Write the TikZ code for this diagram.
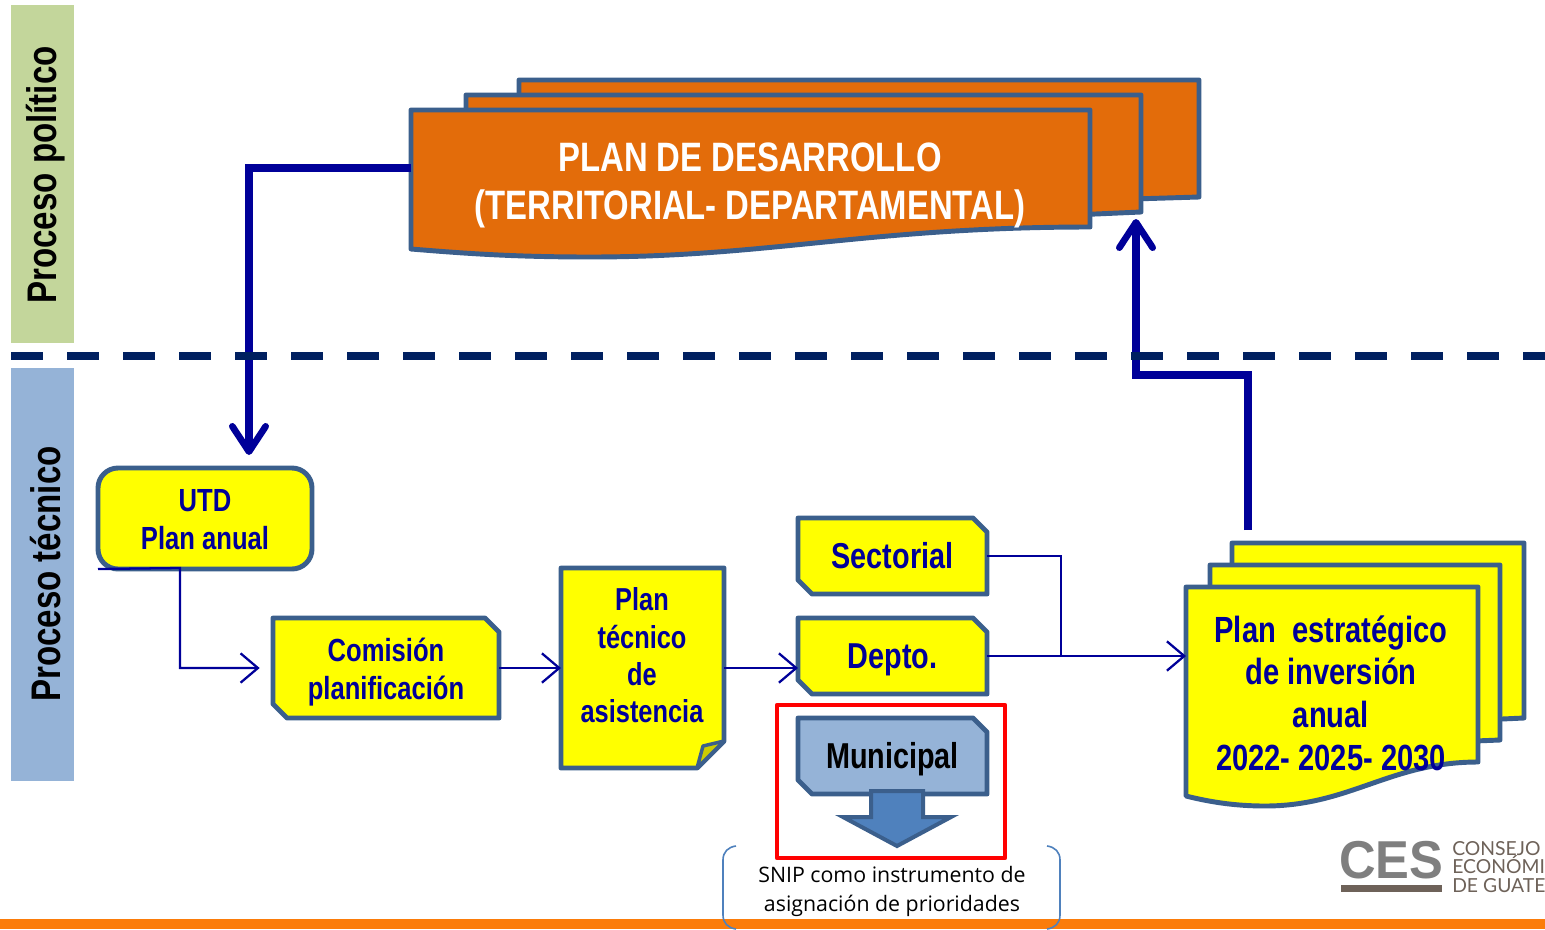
\documentclass[tikz,border=0pt]{standalone}
\usepackage{fontspec}
\setmainfont{Liberation Sans}
\newfontfamily\nar[FakeStretch=0.8]{Liberation Sans}
\newfontfamily\snipf{Open Sans}
\newfontfamily\logof{Lato}
\newfontfamily\cesf[FakeStretch=0.95]{Liberation Sans}
\usetikzlibrary{arrows.meta}
\definecolor{edgeblue}{HTML}{3B5F8C}
\definecolor{inkblue}{HTML}{000099}
\definecolor{docorange}{HTML}{E36C0A}
\definecolor{docyellow}{RGB}{255,255,0}
\definecolor{foldyellow}{HTML}{CCCC00}
\definecolor{framered}{RGB}{255,0,0}
\definecolor{bandgreen}{HTML}{C3D69B}
\definecolor{bandblue}{HTML}{95B3D7}
\definecolor{dashnavy}{HTML}{002060}
\definecolor{barorange}{HTML}{FB7C0A}
\definecolor{stemblue}{HTML}{4F81BD}
\definecolor{snipgray}{HTML}{7F7F7F}
\definecolor{logobrown}{HTML}{6E6259}
\tikzset{
  outline/.style={draw=edgeblue,line width=3.7pt,line join=round},
  yellowdoc/.style={outline,fill=docyellow},
  orangedoc/.style={outline,fill=docorange},
  labeltext/.style 2 args={font=\nar\bfseries\fontsize{#1}{#2}\selectfont,text=inkblue,align=center,inner sep=0pt},
  boxlabel/.style={font=\nar\bfseries\fontsize{27}{27}\selectfont,text=inkblue,inner sep=0pt,anchor=base,yshift=-9.5pt},
  thinarrow/.style={draw=inkblue,line width=1.7pt,-{Straight Barb[length=13pt,width=22pt,line width=1.7pt]}},
  thinline/.style={draw=inkblue,line width=1.5pt},
  thickarrow/.style={draw=inkblue,line width=5.4pt,line join=miter,-{Straight Barb[length=19pt,width=25pt,line width=5pt,round]}},
  frame/.style={inner sep=0pt,outer sep=0pt,anchor=north west},
}
\newcommand{\snipbox}[8]{% name x1 y1 x2 y2 fill labeloptions text
  \path[outline,fill=#6] (#2,#3) -- ({#4-14},#3) -- (#4,{#3+14}) -- (#4,#5) -- ({#2+14},#5) -- (#2,{#5-14}) -- cycle;
  \node[frame,minimum width={(#4-#2)*0.75pt},minimum height={(#5-#3)*0.75pt}] (#1) at (#2,#3) {};
  \node[#7] at (#1.center) {#8};
}
\begin{document}
\begin{tikzpicture}[x=0.75pt,y=-0.75pt]
\useasboundingbox (0,0) rectangle (1545,929);
\clip (0,0) rectangle (1545,929);
\fill[white] (0,0) rectangle (1545,929);
% bands
\fill[bandgreen] (11,5) rectangle (74,343);
\fill[bandblue] (11,368) rectangle (74,781);
\node[rotate=90,font=\nar\bfseries\fontsize{31}{31}\selectfont,inner sep=0pt] (pol) at (46,175) {Proceso político};
\node[rotate=90,font=\nar\bfseries\fontsize{31}{31}\selectfont,inner sep=0pt] (tec) at (46,574) {Proceso técnico};
% bottom bar
\fill[barorange] (0,919) rectangle (1545,929);
% orange stack
\path[orangedoc] (519,80) -- (1199,80) -- (1199,197) -- (1100,200) -- (519,200) -- cycle;
\path[orangedoc] (466,95) -- (1141,95) -- (1141,212) -- (1050,216) -- (466,216) -- cycle;
\path[orangedoc] (411,110) -- (1090,110) -- (1090,227) .. controls (870,227) and (770,257) .. (590,257) .. controls (510,257) and (460,253) .. (411,249) -- cycle;
\node[frame,minimum width=509pt,minimum height=88pt] (plandes) at (411,110) {};
\node[font=\nar\bfseries\fontsize{30.8}{36}\selectfont,text=white,align=center,inner sep=0pt] at (750,185) {PLAN DE DESARROLLO\\(TERRITORIAL- DEPARTAMENTAL)};
% yellow stack
\path[yellowdoc] (1232,543) -- (1524,543) -- (1524,718) -- (1480,720) -- (1232,720) -- cycle;
\path[yellowdoc] (1210,565) -- (1500,565) -- (1500,740) -- (1450,742) -- (1210,742) -- cycle;
\path[yellowdoc] (1186,587) -- (1478,587) -- (1478,762) .. controls (1390,762) and (1350,806) .. (1265,806) .. controls (1235,806) and (1210,802) .. (1186,796) -- cycle;
\node[frame,minimum width=219pt,minimum height=157pt] (estr) at (1186,587) {};
\node[labeltext={27.3}{32}] at (1331,693) {Plan~~estratégico\\de inversión\\anual\\2022- 2025- 2030};
% UTD
\node[frame,yellowdoc,rounded corners=15pt,minimum width=160.5pt,minimum height=75.75pt] (utd) at (98,468) {};
\node[labeltext={24}{28.5}] at (205,519.5) {UTD\\Plan anual};
% snipped boxes
\snipbox{com}{273}{618}{499}{718}{docyellow}{labeltext={24}{28},yshift=-3pt}{Comisión\\planificación}
\snipbox{sect}{798}{518}{987}{594}{docyellow}{boxlabel}{Sectorial}
\snipbox{depto}{798}{618}{987}{694}{docyellow}{boxlabel}{Depto.}
% red frame
\draw[framered,line width=3.4pt,line join=round] (777,705) rectangle (1005,858);
\snipbox{muni}{798}{718}{987}{794}{bandblue}{boxlabel,text=black}{Municipal}
% down arrow
\path[outline,fill=stemblue,line width=3pt,line join=miter] (871,791) -- (923,791) -- (923,817) -- (951,817) -- (897,846) -- (843,817) -- (871,817) -- cycle;
% plan tecnico
\path[yellowdoc] (561,568) -- (724,568) -- (724,741) -- (697,768) -- (561,768) -- cycle;
\path[outline,fill=foldyellow,line width=2.6pt] (724,741) -- (703,746) -- (697,768) -- cycle;
\node[frame,minimum width=122.25pt,minimum height=150pt] (ptec) at (561,568) {};
\node[labeltext={23.8}{28}] at (642,655.5) {Plan\\técnico\\de\\asistencia};
% snip note
\coordinate (brl1) at (736,846);
\coordinate (brl2) at (736,929);
\coordinate (brr1) at (1047,846);
\coordinate (brr2) at (1047,929);
\draw[stemblue,line width=1.2pt] (brl1) .. controls (728,847) and (723,852) .. (723,860) -- (723,915) .. controls (723,923) and (728,928) .. (brl2);
\draw[stemblue,line width=1.2pt] (brr1) .. controls (1055,847) and (1060,852) .. (1060,860) -- (1060,915) .. controls (1060,923) and (1055,928) .. (brr2);
\node[font=\snipf\fontsize{16}{21.8}\selectfont,align=center,inner sep=0pt] (snip) at (892,891) {SNIP como instrumento de\\asignación de prioridades};
% logo
\node[font=\cesf\bfseries\fontsize{40}{40}\selectfont,text=snipgray,inner sep=0pt,anchor=base west] (ces) at (1339,878) {CES};
\fill[logobrown] (1341,885) rectangle (1442,892);
\node[font=\logof\fontsize{14.5}{14}\selectfont,text=logobrown,inner sep=0pt,anchor=west,align=left] (cons) at (1452,867) {CONSEJO\\ECONÓMI\\DE GUATE};
% connectors
\coordinate (elbow) at (180,568);
\draw[thinarrow,shorten >=10pt] (utd.south west) -- (elbow) |- (com.west);
\draw[thinarrow] (com.east |- 0,668) -- (ptec.west |- 0,668);
\draw[thinarrow] (ptec.east |- 0,668) -- (depto.west |- 0,668);
\coordinate (junct) at (1061,656);
\coordinate (estin) at (estr.west |- junct);
\draw[thinline] (sect.east) -| (junct);
\draw[thinarrow] (depto.east) -- (estin);
\draw[thickarrow] (plandes.west |- 0,168) -- (249,168) -- (249,455);
\coordinate (upin) at (1248,530);
\draw[thickarrow] (upin) -- (1248,375) -- (1136,375) -- (1136,219);
% dashed line
\coordinate (dashl) at (11,356);
\coordinate (dashr) at (1545,356);
\draw[dashnavy,line width=5.4pt,dash pattern=on 24pt off 18pt] (dashl) -- (dashr);
\end{tikzpicture}
\end{document}
